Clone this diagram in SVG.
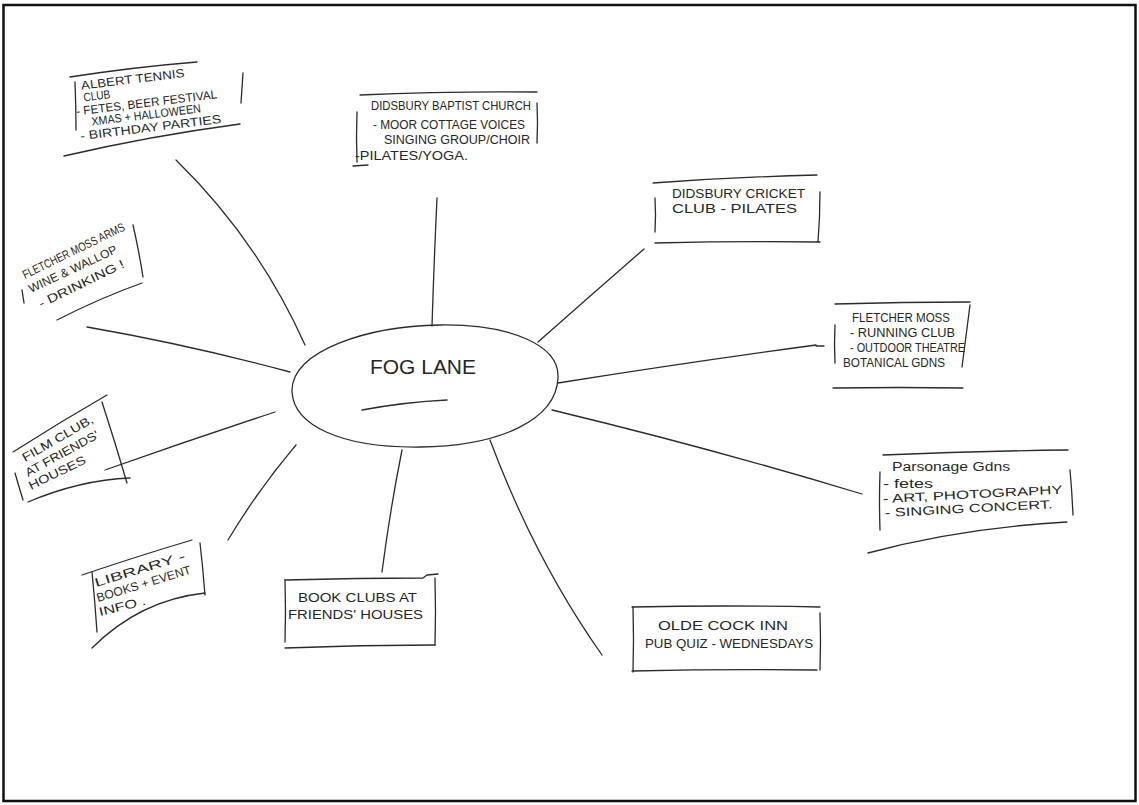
<svg xmlns="http://www.w3.org/2000/svg" width="1139" height="805" viewBox="0 0 1139 805">
  <style>
    .ink { fill: none; stroke: #2b2b2b; stroke-width: 1.3; stroke-linecap: round; stroke-linejoin: round; }
    .hand { font-family: "Liberation Sans", Arial, sans-serif; font-size: 12px; fill: #262626; }
    .big { font-size: 20px; }
  </style>
  <rect x="0" y="0" width="1139" height="805" fill="#ffffff"/>
  <!-- page frame -->
  <rect x="3.5" y="5" width="1132" height="796" fill="none" stroke="#111" stroke-width="2.5"/>

  <!-- connectors -->
  <g id="connectors" class="ink">
    <path d="M176 160 Q258 240 305 345"/>
    <path d="M437 198 Q434 262 432 326"/>
    <path d="M644 249 Q590 296 538 342"/>
    <path d="M816 345 Q690 362 558 383"/>
    <path d="M552 410 Q710 448 862 494"/>
    <path d="M490 440 Q535 560 602 655"/>
    <path d="M402 450 Q390 510 382 572"/>
    <path d="M296 445 Q258 490 228 540"/>
    <path d="M275 412 Q190 440 105 470"/>
    <path d="M87 327 Q190 345 290 372"/>
  </g>

  <!-- centre -->
  <g id="fog-lane">
    <path class="ink" d="M292 392 C290 350 370 326 440 325 C510 324 560 345 558 378 C556 420 500 446 420 447 C340 448 294 425 292 392 Z"/>
    <text class="hand big" x="370" y="374" textLength="106" lengthAdjust="spacingAndGlyphs">FOG LANE</text>
    <path class="ink" d="M362 410 Q405 402 447 400"/>
  </g>

  <g id="albert-tennis">
    <path class="ink" d="M70 77 Q135 67 197 62"/>
    <path class="ink" d="M75 82 Q76 106 76 130"/>
    <path class="ink" d="M243 73 Q242 88 241 103"/>
    <path class="ink" d="M64 156 Q150 136 240 124"/>
    <g transform="rotate(-7 80 110)">
      <text class="hand" font-size="11" x="84" y="90" textLength="104" lengthAdjust="spacingAndGlyphs">ALBERT TENNIS</text>
      <text class="hand" font-size="11" x="85" y="102" textLength="27" lengthAdjust="spacingAndGlyphs">CLUB</text>
      <text class="hand" font-size="11" x="76" y="115" textLength="142" lengthAdjust="spacingAndGlyphs">- FETES, BEER FESTIVAL</text>
      <text class="hand" font-size="11" x="90" y="127" textLength="110" lengthAdjust="spacingAndGlyphs">XMAS + HALLOWEEN</text>
      <text class="hand" font-size="11" x="77" y="140" textLength="142" lengthAdjust="spacingAndGlyphs">- BIRTHDAY PARTIES</text>
    </g>
  </g>

  <g id="baptist-church">
    <path class="ink" d="M360 95 Q450 91 537 92"/>
    <path class="ink" d="M357 112 Q356 138 357 162"/>
    <path class="ink" d="M537 103 Q538 123 537 143"/>
    <path class="ink" d="M353 166 L368 165"/>
    <text class="hand" x="371" y="110" textLength="160" lengthAdjust="spacingAndGlyphs">DIDSBURY BAPTIST CHURCH</text>
    <text class="hand" x="373" y="129" textLength="152" lengthAdjust="spacingAndGlyphs">- MOOR COTTAGE VOICES</text>
    <text class="hand" x="384" y="144" textLength="146" lengthAdjust="spacingAndGlyphs">SINGING GROUP/CHOIR</text>
    <text class="hand" x="355" y="160" textLength="113" lengthAdjust="spacingAndGlyphs">-PILATES/YOGA.</text>
  </g>

  <g id="cricket-club">
    <path class="ink" d="M653 183 Q735 177 817 175"/>
    <path class="ink" d="M655 198 Q656 215 655 232"/>
    <path class="ink" d="M820 192 Q820 217 818 242"/>
    <path class="ink" d="M655 243 Q738 241 820 242"/>
    <text class="hand" x="672" y="198" textLength="133" lengthAdjust="spacingAndGlyphs">DIDSBURY CRICKET</text>
    <text class="hand" x="672" y="213" textLength="125" lengthAdjust="spacingAndGlyphs">CLUB - PILATES</text>
  </g>

  <g id="fletcher-moss">
    <path class="ink" d="M835 304 Q903 302 970 302"/>
    <path class="ink" d="M835 325 Q834 344 835 363"/>
    <path class="ink" d="M970 305 Q966 336 962 367"/>
    <path class="ink" d="M833 388 Q898 387 963 388"/>
    <path class="ink" d="M816 346 L824 346"/>
    <text class="hand" x="852" y="322" textLength="98" lengthAdjust="spacingAndGlyphs">FLETCHER MOSS</text>
    <text class="hand" x="850" y="337" textLength="105" lengthAdjust="spacingAndGlyphs">- RUNNING CLUB</text>
    <text class="hand" x="850" y="352" textLength="115" lengthAdjust="spacingAndGlyphs">- OUTDOOR THEATRE</text>
    <text class="hand" x="843" y="367" textLength="102" lengthAdjust="spacingAndGlyphs">BOTANICAL GDNS</text>
  </g>

  <g id="parsonage-gardens">
    <path class="ink" d="M883 455 Q975 451 1068 450"/>
    <path class="ink" d="M880 472 Q879 501 880 530"/>
    <path class="ink" d="M1070 470 Q1072 492 1073 515"/>
    <path class="ink" d="M868 553 Q960 528 1067 522"/>
    <text class="hand" font-size="13" x="892" y="471" textLength="118" lengthAdjust="spacingAndGlyphs">Parsonage Gdns</text>
    <text class="hand" font-size="13" x="883" y="488" textLength="50" lengthAdjust="spacingAndGlyphs">- fetes</text>
    <text class="hand" font-size="13" transform="translate(883 503) rotate(-3)" textLength="180" lengthAdjust="spacingAndGlyphs">- ART, PHOTOGRAPHY</text>
    <text class="hand" font-size="13" transform="translate(885 517) rotate(-3)" textLength="168" lengthAdjust="spacingAndGlyphs">- SINGING CONCERT.</text>
  </g>

  <g id="olde-cock-inn">
    <path class="ink" d="M632 607 Q726 605 820 607"/>
    <path class="ink" d="M633 607 Q634 640 633 672"/>
    <path class="ink" d="M820 613 Q821 641 820 670"/>
    <path class="ink" d="M632 671 Q725 669 817 670"/>
    <text class="hand" x="658" y="630" textLength="130" lengthAdjust="spacingAndGlyphs">OLDE COCK INN</text>
    <text class="hand" x="645" y="648" textLength="168" lengthAdjust="spacingAndGlyphs">PUB QUIZ - WEDNESDAYS</text>
  </g>

  <g id="book-clubs">
    <path class="ink" d="M285 580 Q360 578 423 578 L427 575 L438 574"/>
    <path class="ink" d="M285 580 Q286 612 285 642"/>
    <path class="ink" d="M435 578 Q436 612 435 645"/>
    <path class="ink" d="M285 648 Q360 645 435 645"/>
    <text class="hand" font-size="13" x="298" y="602" textLength="119" lengthAdjust="spacingAndGlyphs">BOOK CLUBS AT</text>
    <text class="hand" font-size="13" x="288" y="619" textLength="135" lengthAdjust="spacingAndGlyphs">FRIENDS' HOUSES</text>
  </g>

  <g id="library">
    <path class="ink" d="M82 575 Q138 556 192 540"/>
    <path class="ink" d="M92 572 Q95 602 97 632"/>
    <path class="ink" d="M200 543 Q203 569 205 595"/>
    <path class="ink" d="M92 648 Q140 600 205 593"/>
    <text class="hand" transform="translate(96 587) rotate(-17)" font-size="13" textLength="94" lengthAdjust="spacingAndGlyphs">LIBRARY -</text>
    <text class="hand" transform="translate(98 602) rotate(-17)" font-size="13" textLength="98" lengthAdjust="spacingAndGlyphs">BOOKS + EVENT</text>
    <text class="hand" transform="translate(100 616) rotate(-14)" font-size="13" textLength="48" lengthAdjust="spacingAndGlyphs">INFO .</text>
  </g>

  <g id="film-club">
    <path class="ink" d="M13 452 Q60 422 107 395"/>
    <path class="ink" d="M15 473 Q19 487 23 500"/>
    <path class="ink" d="M102 402 Q115 442 127 483"/>
    <path class="ink" d="M28 502 Q80 480 130 478"/>
    <text class="hand" transform="translate(25 462) rotate(-30)" font-size="13" textLength="80" lengthAdjust="spacingAndGlyphs">FILM CLUB,</text>
    <text class="hand" transform="translate(28 477) rotate(-29)" font-size="13" textLength="82" lengthAdjust="spacingAndGlyphs">AT FRIENDS'</text>
    <text class="hand" transform="translate(31 490) rotate(-26)" font-size="13" textLength="62" lengthAdjust="spacingAndGlyphs">HOUSES</text>
  </g>

  <g id="fletcher-moss-arms">
    <path class="ink" d="M133 225 Q139 251 143 277"/>
    <path class="ink" d="M57 320 Q100 298 142 283"/>
    <path class="ink" d="M22 290 L24 303"/>
    <text class="hand" font-size="11" transform="translate(25 279) rotate(-26)" textLength="112" lengthAdjust="spacingAndGlyphs">FLETCHER MOSS ARMS</text>
    <text class="hand" font-size="12" transform="translate(31 293) rotate(-25)" textLength="96" lengthAdjust="spacingAndGlyphs">WINE &amp; WALLOP</text>
    <text class="hand" font-size="12" transform="translate(41 308) rotate(-26)" textLength="94" lengthAdjust="spacingAndGlyphs">- DRINKING !</text>
  </g>
</svg>
